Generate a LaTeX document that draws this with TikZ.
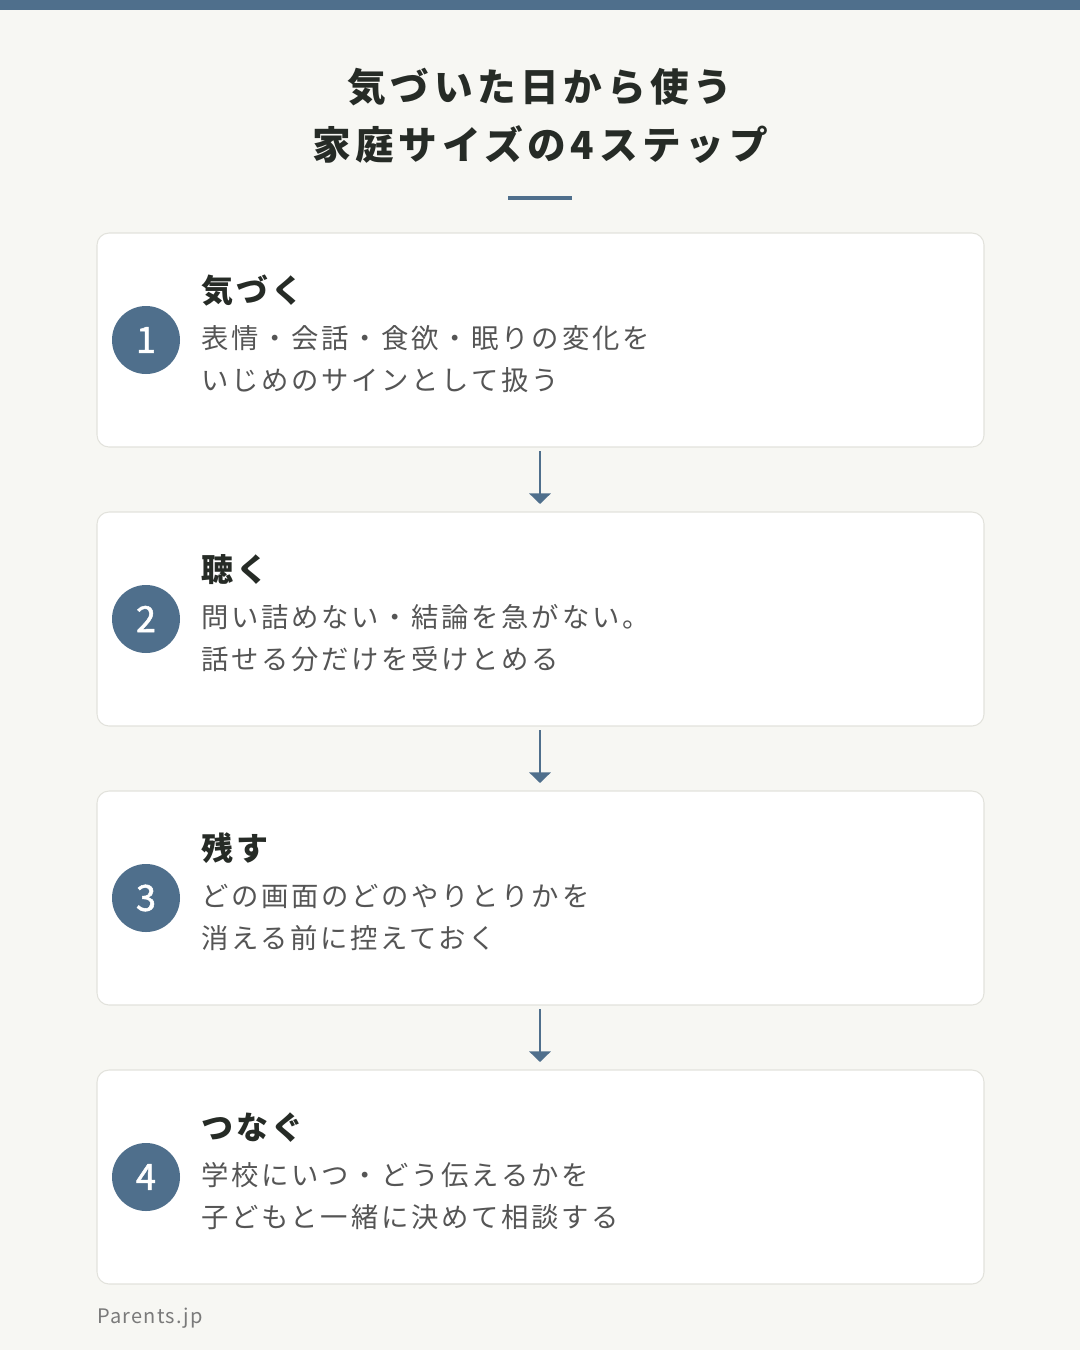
\documentclass[tikz,border=0pt]{standalone}
\usepackage{fontspec}
\setmainfont{Noto Sans CJK JP}
\usetikzlibrary{arrows.meta}
\definecolor{accent}{HTML}{4F6F8C}
\definecolor{bg}{HTML}{F7F7F3}
\definecolor{edge}{HTML}{E2E2DC}
\definecolor{ink}{HTML}{262B26}
\definecolor{body}{HTML}{555555}
\definecolor{foot}{HTML}{7A7A7A}
\tikzset{
 card/.style={draw=edge,line width=0.8pt,fill=white,rounded corners=9pt},
 num/.style={circle,fill=accent,minimum size=51pt,inner sep=0pt,text=white,font=\fontsize{27}{27}\selectfont\addfontfeature{FakeBold=1.5}},
 head/.style={anchor=base west,inner sep=0pt,text=ink,font=\fontsize{24}{24}\selectfont\bfseries\addfontfeature{LetterSpace=10}},
 txt/.style={anchor=base west,inner sep=0pt,text=body,font=\fontsize{20.5}{20.5}\selectfont\addfontfeature{LetterSpace=10}},
 ttl/.style={inner sep=0pt,anchor=base,text=ink,font=\fontsize{29}{29}\selectfont\bfseries\addfontfeature{LetterSpace=12}},
 flow/.style={draw=accent,line width=2.2pt,-{Triangle[length=8pt,width=16pt]}}
}
\begin{document}
\begin{tikzpicture}[x=0.75pt,y=-0.75pt]
\fill[bg] (0,0) rectangle (1080,1350);
\useasboundingbox (0,0) rectangle (1080,1350);
\fill[accent] (0,0) rectangle (1080,10);
\node[ttl] (t1) at (540,101) {気づいた日から使う};
\node[ttl] (t2) at (540,159) {家庭サイズの4ステップ};
\fill[accent] (508,196) rectangle (572,200);
\foreach \i/\y/\h/\a/\b in {1/233/気づく/表情・会話・食欲・眠りの変化を/いじめのサインとして扱う,
 2/512/聴く/問い詰めない・結論を急がない。/話せる分だけを受けとめる,
 3/791/残す/どの画面のどのやりとりかを/消える前に控えておく,
 4/1070/つなぐ/学校にいつ・どう伝えるかを/子どもと一緒に決めて相談する}{
 \draw[card] (97,\y) rectangle (984,\y+214);
 \coordinate (top\i) at (540,\y);
 \coordinate (bot\i) at (540,\y+214);
 \node[num] (n\i) at (146,\y+107) {\i};
 \node[head] (h\i) at (201,\y+69) {\h};
 \node[txt] (a\i) at (201,\y+115) {\a};
 \node[txt] (b\i) at (201,\y+157) {\b};
}
\foreach \i/\j in {1/2,2/3,3/4}{
 \draw[flow] ([yshift=-3pt]bot\i) -- ([yshift=6pt]top\j);
}
\node[anchor=base west,inner sep=0pt,text=foot,font=\fontsize{15}{15}\selectfont\addfontfeature{LetterSpace=6}] (f) at (97,1323) {Parents.jp};
\end{tikzpicture}
\end{document}
